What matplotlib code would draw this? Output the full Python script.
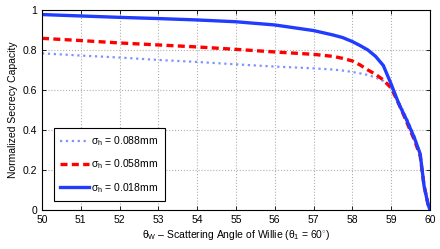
import numpy as np
import matplotlib
matplotlib.use('Agg')
import matplotlib.pyplot as plt

plt.rcParams['font.family'] = ['Liberation Sans', 'DejaVu Sans']
plt.rcParams['mathtext.fontset'] = 'custom'
plt.rcParams['mathtext.rm'] = 'Liberation Sans'
plt.rcParams['mathtext.it'] = 'Liberation Sans'
plt.rcParams['mathtext.sf'] = 'Liberation Sans'

# scattering angle of Willie (deg)
theta_w = [50, 51, 52, 53, 54, 55, 56, 57, 57.5, 57.75, 58, 58.2, 58.4, 58.6, 58.8,
           59.0, 59.2, 59.4, 59.6, 59.75, 59.85, 59.95, 60]
# normalized secrecy capacity for each sigma_h
cap_088 = [0.783, 0.772, 0.762, 0.750, 0.740, 0.728, 0.717, 0.708, 0.702, 0.697, 0.690,
           0.683, 0.675, 0.662, 0.645, 0.610, 0.540, 0.460, 0.370, 0.280, 0.130, 0.040, 0.0]
cap_058 = [0.858, 0.847, 0.835, 0.825, 0.815, 0.803, 0.790, 0.778, 0.768, 0.758, 0.745,
           0.725, 0.700, 0.678, 0.650, 0.610, 0.530, 0.440, 0.350, 0.270, 0.120, 0.030, 0.0]
cap_018 = [0.977, 0.970, 0.963, 0.957, 0.950, 0.941, 0.925, 0.897, 0.875, 0.862, 0.842,
           0.822, 0.800, 0.768, 0.722, 0.630, 0.530, 0.450, 0.360, 0.280, 0.120, 0.030, 0.0]
labels = [r'$\sigma_h$ = 0.088mm', r'$\sigma_h$ = 0.058mm', r'$\sigma_h$ = 0.018mm']

fig = plt.figure(figsize=(4.4, 2.49), dpi=100)
ax = fig.add_axes([0.0955, 0.157, 0.8815, 0.803])

ax.plot(theta_w, cap_088, ':', color='#7f93ff', lw=1.6, label=labels[0])
ax.plot(theta_w, cap_058, '--', color='#ff0000', lw=2.4, dashes=(2.1, 1.3), label=labels[1])
ax.plot(theta_w, cap_018, '-', color='#1f3cff', lw=2.4, label=labels[2])

ax.set_xlim(50, 60)
ax.set_ylim(0, 1)
ax.set_xticks(np.arange(50, 61, 1))
ax.set_yticks([0, 0.2, 0.4, 0.6, 0.8, 1])
ax.set_yticklabels(['0', '0.2', '0.4', '0.6', '0.8', '1'])
ax.grid(True, ls=':', color='#b0b0b0', lw=0.8)
ax.tick_params(direction='in', top=True, right=True, labelsize=7.5, length=3, width=0.6)
for s in ax.spines.values():
    s.set_linewidth(0.8)

ax.set_xlabel(r'$\theta_W$ – Scattering Angle of Willie ($\theta_1$ = 60$^{\circ}$)', fontsize=7.5, labelpad=2)
ax.set_ylabel('Normalized Secrecy Capacity', fontsize=7.5, labelpad=3)

leg = ax.legend(loc='lower left', bbox_to_anchor=(0.03, 0.045), fontsize=7.5, fancybox=False,
                framealpha=1, edgecolor='black', handlelength=2.8, borderpad=0.6,
                labelspacing=0.9, handletextpad=0.2, borderaxespad=0)
leg.get_frame().set_linewidth(0.8)

fig.savefig('out.png', dpi=100)
